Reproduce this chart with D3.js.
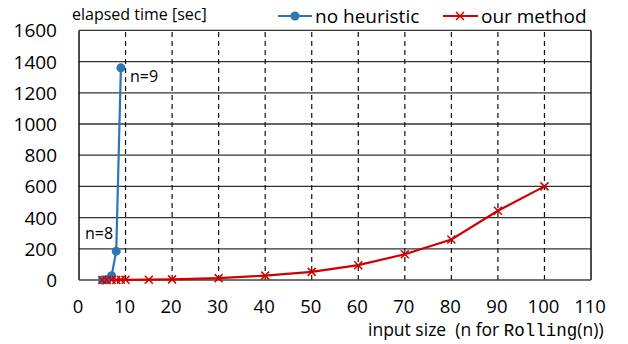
<!DOCTYPE html>
<html>
<head>
<meta charset="UTF-8">
<script src="https://d3js.org/d3.v7.min.js"></script>
<style>
  body { margin: 0; background: #fff; }
  text { font-family: "Open Sans", "Liberation Sans", sans-serif; fill: #000; }
</style>
</head>
<body>
<svg id="chart"></svg>
<script>
// data
const noHeurN = [5, 6, 7, 8, 9];
const noHeurTime = [0, 3, 27, 185, 1360];
const oursN = [5, 6, 7, 8, 9, 10, 15, 20, 30, 40, 50, 60, 70, 80, 90, 100];
const oursTime = [0, 0, 0, 0, 1, 1, 2, 4, 12, 28, 52, 95, 165, 260, 444, 600];
const xTicks = [0, 10, 20, 30, 40, 50, 60, 70, 80, 90, 100, 110];
const yTicks = [0, 200, 400, 600, 800, 1000, 1200, 1400, 1600];
const seriesNames = ["no heuristic", "our method"];

const W = 628, H = 344;
const m = {top: 30.4, left: 79, right: 37, bottom: 64};

const svg = d3.select("#chart").attr("width", W).attr("height", H);

const x = d3.scaleLinear().domain([0, 110]).range([m.left, W - m.right]);
const y = d3.scaleLinear().domain([0, 1600]).range([H - m.bottom, m.top]);

// horizontal grid (solid)
svg.append("g").selectAll("line")
  .data(yTicks.slice(1))
  .join("line")
  .attr("x1", x(0)).attr("x2", x(110))
  .attr("y1", d => y(d)).attr("y2", d => y(d))
  .attr("stroke", "#333").attr("stroke-width", 1.3);

// vertical grid (dashed)
svg.append("g").selectAll("line")
  .data(xTicks.slice(1, -1))
  .join("line")
  .attr("x1", d => x(d)).attr("x2", d => x(d))
  .attr("y1", y(0)).attr("y2", y(1600))
  .attr("stroke", "#111").attr("stroke-width", 1.2)
  .attr("stroke-dasharray", "5,4");

// frame
svg.append("line").attr("x1", x(0)).attr("x2", x(0)).attr("y1", y(0)).attr("y2", y(1600))
  .attr("stroke", "#111").attr("stroke-width", 1.5);
svg.append("line").attr("x1", x(110)).attr("x2", x(110)).attr("y1", y(0)).attr("y2", y(1600))
  .attr("stroke", "#111").attr("stroke-width", 1.5);
svg.append("line").attr("x1", x(0)).attr("x2", x(110)).attr("y1", y(0)).attr("y2", y(0))
  .attr("stroke", "#444").attr("stroke-width", 1.5);

// y tick labels
svg.append("g").selectAll("text")
  .data(yTicks)
  .join("text")
  .attr("x", x(0) - 22)
  .attr("y", d => y(d) + 7)
  .attr("text-anchor", "end")
  .style("font-size", "19px")
  .text(d => d);

// x tick labels
svg.append("g").selectAll("text")
  .data(xTicks)
  .join("text")
  .attr("x", d => x(d) - 1)
  .attr("y", 313)
  .attr("text-anchor", "middle")
  .style("font-size", "18.5px")
  .text(d => d);

// axis titles
svg.append("text")
  .attr("x", 72).attr("y", 20)
  .style("font-size", "16px")
  .text("elapsed time [sec]");

const xt = svg.append("text")
  .attr("x", 368).attr("y", 336)
  .attr("xml:space", "preserve")
  .style("white-space", "pre")
  .style("font-size", "17.5px");
xt.append("tspan").text("input size  (n for ");
xt.append("tspan")
  .style("font-family", "'Liberation Mono', 'DejaVu Sans Mono', monospace")
  .style("font-size", "17.5px").text("Rolling");
xt.append("tspan").text("(n))");

const blue = "#2e75b6", red = "#d00000";
const line = d3.line().x(d => x(d[0])).y(d => y(d[1]));

// our method
const oursPts = oursN.map((n, i) => [n, oursTime[i]]);
svg.append("path").datum(oursPts)
  .attr("d", line).attr("fill", "none")
  .attr("stroke", red).attr("stroke-width", 2.2);

// no heuristic
const nhPts = noHeurN.map((n, i) => [n, noHeurTime[i]]);
svg.append("path").datum(nhPts)
  .attr("d", line).attr("fill", "none")
  .attr("stroke", blue).attr("stroke-width", 2.2);
svg.append("g").selectAll("circle")
  .data(nhPts)
  .join("circle")
  .attr("cx", d => x(d[0])).attr("cy", d => y(d[1]))
  .attr("r", 4.5).attr("fill", blue);

// x markers for our method on top
const cross = (g, cx, cy, s) => {
  g.append("path")
    .attr("d", `M${cx - s},${cy - s}L${cx + s},${cy + s}M${cx - s},${cy + s}L${cx + s},${cy - s}`)
    .attr("stroke", red).attr("stroke-width", 1.5).attr("fill", "none");
};
const mk = svg.append("g");
oursPts.forEach(d => cross(mk, x(d[0]), y(d[1]), 4));

// point labels
svg.append("text").attr("x", 130).attr("y", 82)
  .style("font-size", "16px").text("n=9");
svg.append("text").attr("x", 85).attr("y", 239)
  .style("font-size", "16px").text("n=8");

// legend
const lg = svg.append("g");
lg.append("line").attr("x1", 278).attr("x2", 312).attr("y1", 16).attr("y2", 16)
  .attr("stroke", blue).attr("stroke-width", 2.2);
lg.append("circle").attr("cx", 295).attr("cy", 16).attr("r", 4.5).attr("fill", blue);
lg.append("text").attr("x", 315).attr("y", 23).style("font-size", "19px").text(seriesNames[0]);
lg.append("line").attr("x1", 443).attr("x2", 478).attr("y1", 16).attr("y2", 16)
  .attr("stroke", red).attr("stroke-width", 2.2);
cross(lg, 460, 16, 4);
lg.append("text").attr("x", 481).attr("y", 23).style("font-size", "19px").text(seriesNames[1]);
</script>
</body>
</html>
